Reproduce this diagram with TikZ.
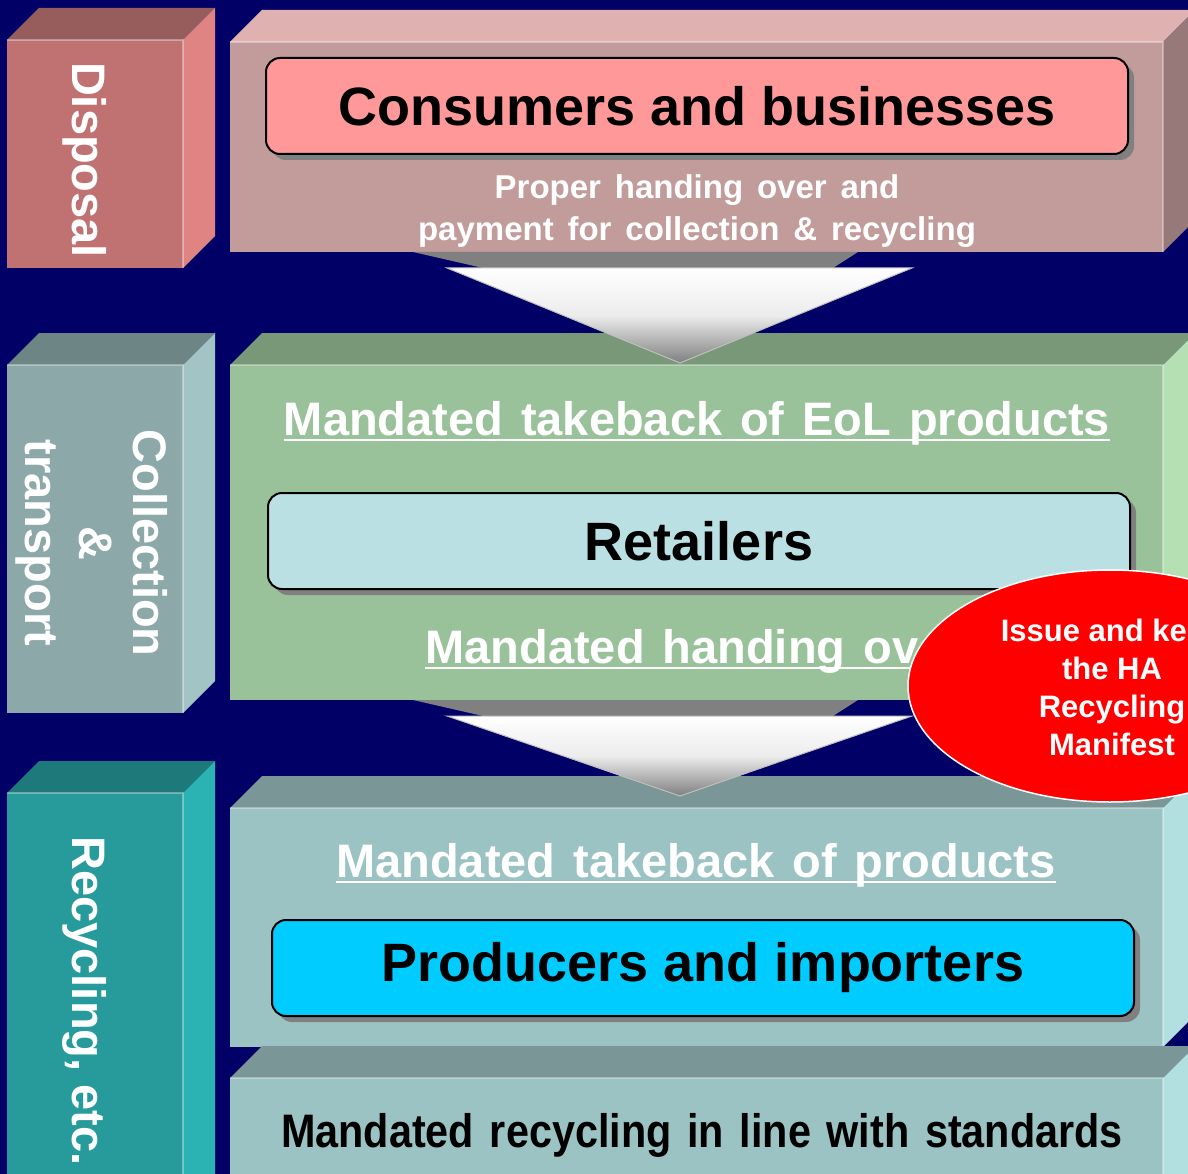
\documentclass[tikz,border=0pt]{standalone}
\usepackage{fontspec}
\setmainfont{Liberation Sans}
\usetikzlibrary{shadows}

\newcommand{\vardepth}{32}
\newcommand{\varW}{1188}
\newcommand{\varH}{1174}
\newcommand{\widesp}[1]{\spaceskip=#1\relax}
\definecolor{mynavy}{RGB}{0,0,102}
\definecolor{dispfront}{RGB}{192,114,114}
\definecolor{disptop}{RGB}{151,93,93}
\definecolor{dispside}{RGB}{223,131,131}
\definecolor{consfront}{RGB}{194,155,155}
\definecolor{constop}{RGB}{223,177,177}
\definecolor{consside}{RGB}{151,121,121}
\definecolor{collfront}{RGB}{141,168,169}
\definecolor{colltop}{RGB}{110,133,133}
\definecolor{collside}{RGB}{162,196,197}
\definecolor{retfront}{RGB}{154,194,154}
\definecolor{rettop}{RGB}{120,152,120}
\definecolor{retside}{RGB}{180,224,180}
\definecolor{recyfront}{RGB}{39,155,155}
\definecolor{recytop}{RGB}{30,122,122}
\definecolor{recyside}{RGB}{43,179,179}
\definecolor{prodfront}{RGB}{155,195,195}
\definecolor{prodtop}{RGB}{122,150,150}
\definecolor{prodside}{RGB}{178,224,224}
\definecolor{mypink}{RGB}{255,153,153}
\definecolor{mypale}{RGB}{187,224,227}
\definecolor{mycyan}{RGB}{0,204,255}

% box with top and right faces: x0, y0, x1, y1, colour prefix
\newcommand{\cuboid}[5]{%
	\fill [#5front] (#1,#2) rectangle (#3,#4);
	\fill [#5top] (#1,#2) -- (#1+\vardepth,#2-\vardepth) -- (#3+\vardepth,#2-\vardepth) -- (#3,#2) -- cycle;
	\fill [#5side] (#3,#2) -- (#3+\vardepth,#2-\vardepth) -- (#3+\vardepth,#4-\vardepth) -- (#3,#4) -- cycle;
	\draw [white, opacity=.35, line width=1.5pt] (#1,#2) -- (#3,#2) -- (#3,#4);
}

\tikzset{
	stage/.style={text=white, inner sep=0pt, anchor=base, rotate=-90, font=\fontsize{47}{54}\selectfont\bfseries},
	actor/.style={draw=black, line width=2pt, rounded corners=14pt, minimum width=862pt, minimum height=96pt,
		font=\fontsize{54}{60}\selectfont\bfseries,
		drop shadow={shadow xshift=6pt, shadow yshift=-6pt, fill=gray, opacity=1}},
	duty/.style={text=white, inner sep=0pt, anchor=base, font=\fontsize{47}{56}\selectfont\bfseries},
	flow/.style={draw=gray!50, line width=1pt, top color=white, bottom color=gray, middle color=white!85!gray},
}

\begin{document}
\begin{tikzpicture}[x=1pt, y=-1pt]
	\useasboundingbox (0,0) rectangle (\varW,\varH);
	\clip (0,0) rectangle (\varW,\varH);
	\fill [mynavy] (0,0) rectangle (\varW,\varH);

	% fillers
	\cuboid{7}{40}{183}{268}{disp}
	\cuboid{7}{365}{183}{713}{coll}
	\cuboid{7}{793}{183}{1220}{recy}
	\cuboid{230}{42}{1163}{252}{cons}
	\cuboid{230}{365}{1163}{700}{ret}
	\cuboid{230}{808}{1163}{1047}{prod}
	\cuboid{230}{1078}{1163}{1220}{prod}

	% stages
	\node [stage] (disposal) at (72,160) {Disposal};
	\node [stage, anchor=center, align=center] (collection) at (92,543) {Collection\\\&\\transport};
	\node [stage] (recycling) at (72,1001) {Recycling, etc.};

	% actors
	\node [actor, fill=mypink] (consumers) at (697,106) {Consumers and businesses};
	\node [actor, fill=mypale] (retailers) at (699,541) {Retailers};
	\node [actor, fill=mycyan] (producers) at (703,968) {Producers and importers};

	% duties
	\node [duty, font=\fontsize{33}{40}\selectfont\bfseries] (proper) at (697,199) {\widesp{.42em}Proper handing over and};
	\node [duty, font=\fontsize{33}{40}\selectfont\bfseries] (payment) at (697,241) {\widesp{.42em}payment for collection \& recycling};
	\node [duty] (takebackeol) at (697,435) {\widesp{.38em}Mandated takeback of EoL products};
	\node [duty] (handing) at (694,663) {\widesp{.38em}Mandated handing over};
	\node [duty] (takeback) at (696,877) {\widesp{.38em}Mandated takeback of products};
	\node [duty, text=black] (standards) at (702,1147) {\scalebox{0.88}[1]{\widesp{.38em}Mandated recycling in line with standards}};
	\foreach \n in {takebackeol,handing,takeback}
		\draw [white, line width=2.5pt] ([yshift=-5pt]\n.base west) -- ([yshift=-5pt]\n.base east);

	% arrows
	\fill [gray] (413,252) -- (858,252) -- (833,268) -- (483,268) -- cycle;
	\shade [flow] (447,268) -- (912,268) -- (680,363) -- cycle;
	\fill [gray] (413,700) -- (858,700) -- (833,716) -- (483,716) -- cycle;
	\shade [flow] (447,716) -- (912,716) -- (680,796) -- cycle;

	% manifest
	\draw [white, line width=1.5pt, fill=red] (1110,686) ellipse [x radius=202, y radius=116];
	\node [text=white, align=center, font=\fontsize{31}{38}\selectfont\bfseries] (manifest) at (1112,687)
		{Issue and keep\\the HA\\Recycling\\Manifest};
\end{tikzpicture}
\end{document}
